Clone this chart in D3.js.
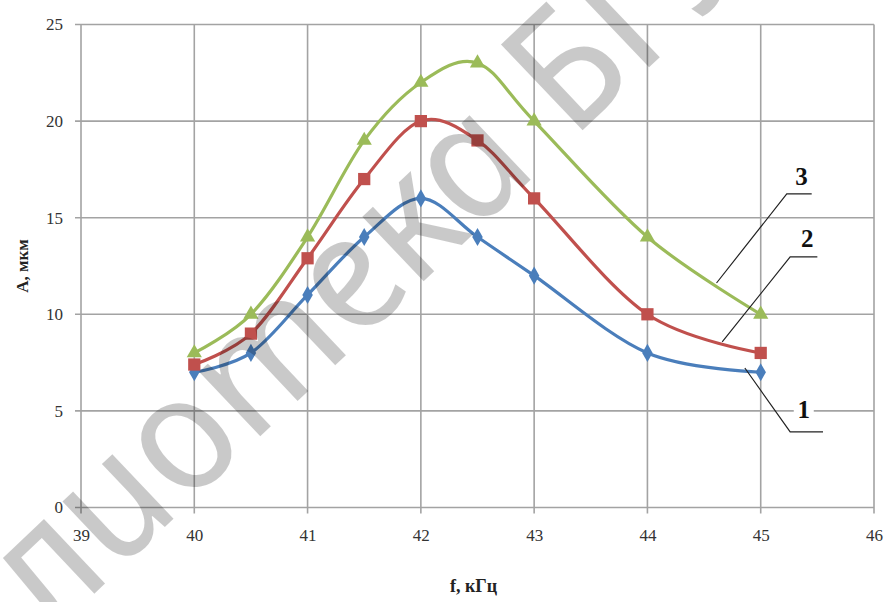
<!DOCTYPE html>
<html>
<head>
<meta charset="utf-8">
<script src="https://cdn.jsdelivr.net/npm/d3@7"></script>
<style>
  body { margin: 0; background: #fff; }
  svg { display: block; }
</style>
</head>
<body>
<div id="chart"></div>
<script>
// frequency, kHz
var freq = [40, 40.5, 41, 41.5, 42, 42.5, 43, 44, 45]
// amplitude, um
var curve1 = [7, 8, 11, 14, 16, 14, 12, 8, 7]
var curve2 = [7.4, 9, 12.9, 17, 20, 19, 16, 10, 8]
var curve3 = [8, 10, 14, 19, 22, 23, 20, 14, 10]

var xTicks = [39, 40, 41, 42, 43, 44, 45, 46]
var yTicks = [0, 5, 10, 15, 20, 25]

var width = 887, height = 602
var margin = {top: 24.5, right: 13, bottom: 94.5, left: 81}
var w = width - margin.left - margin.right
var h = height - margin.top - margin.bottom

var x = d3.scaleLinear().domain([39, 46]).range([0, w])
var y = d3.scaleLinear().domain([0, 25]).range([h, 0])

var serif = '"Liberation Serif", "Times New Roman", serif'

var svg = d3.select('#chart').append('svg')
  .attr('width', width)
  .attr('height', height)

var g = svg.append('g')
  .attr('transform', 'translate(' + margin.left + ',' + margin.top + ')')

var gridColor = '#a3a3a3'

// grid (ticks stick out a little past the axes)
g.append('g').selectAll('line')
  .data(yTicks)
  .enter().append('line')
  .attr('x1', -6).attr('x2', w)
  .attr('y1', function(d) { return y(d) })
  .attr('y2', function(d) { return y(d) })
  .attr('stroke', gridColor).attr('stroke-width', 1.6)

g.append('g').selectAll('line')
  .data(xTicks)
  .enter().append('line')
  .attr('x1', function(d) { return x(d) })
  .attr('x2', function(d) { return x(d) })
  .attr('y1', 0).attr('y2', h + 6)
  .attr('stroke', gridColor).attr('stroke-width', 1.6)

// axes
var yAxis = d3.axisLeft(y).tickValues(yTicks).tickSize(0).tickPadding(18).tickFormat(d3.format('d'))
var xAxis = d3.axisBottom(x).tickValues(xTicks).tickSize(0).tickPadding(21).tickFormat(d3.format('d'))

g.append('g').attr('class', 'y axis').call(yAxis)
  .attr('font-family', serif).attr('font-size', 17)
g.append('g').attr('class', 'x axis')
  .attr('transform', 'translate(0,' + h + ')')
  .call(xAxis)
  .attr('font-family', serif).attr('font-size', 17)

g.selectAll('.axis .domain').remove()
g.selectAll('.axis text').attr('fill', '#333')

g.append('text')
  .attr('transform', 'translate(' + (22 - margin.left) + ',' + (266 - margin.top) + ') rotate(-90)')
  .attr('text-anchor', 'middle')
  .attr('dy', '0.35em')
  .attr('font-family', serif)
  .attr('font-size', 17)
  .attr('font-weight', 'bold')
  .attr('fill', '#222')
  .text('A, мкм')

g.append('text')
  .attr('x', 450 - margin.left)
  .attr('y', 592 - margin.top)
  .attr('font-family', serif)
  .attr('font-size', 18)
  .attr('font-weight', 'bold')
  .attr('fill', '#222')
  .text('f, кГц')

// curves
var series = [
  {values: curve1, color: '#4a7ebb', marker: d3.symbolDiamond, size: 95},
  {values: curve2, color: '#c0504d', marker: d3.symbolSquare, size: 150},
  {values: curve3, color: '#9bbb59', marker: d3.symbolTriangle, size: 100}
]

var line = d3.line()
  .x(function(d, i) { return x(freq[i]) })
  .y(function(d) { return y(d) })
  .curve(d3.curveCardinal.tension(0))

series.forEach(function(s) {
  g.append('path')
    .datum(s.values)
    .attr('d', line)
    .attr('fill', 'none')
    .attr('stroke', s.color)
    .attr('stroke-width', 3.2)
    .attr('stroke-linejoin', 'round')

  g.append('g').selectAll('path')
    .data(s.values)
    .enter().append('path')
    .attr('d', d3.symbol().type(s.marker).size(s.size))
    .attr('transform', function(d, i) { return 'translate(' + x(freq[i]) + ',' + y(d) + ')' })
    .attr('fill', s.color)
})

// callouts: anchor on curve -> elbow -> underline, number above
var callouts = [
  {label: '1', ax: 44.86, ay: 7.22, lx0: 45.26, lx1: 45.55, ly: 3.91, tx: 45.38, ty: 4.63},
  {label: '2', ax: 44.66, ay: 8.57, lx0: 45.26, lx1: 45.50, ly: 12.97, tx: 45.41, ty: 13.48},
  {label: '3', ax: 44.61, ay: 11.62, lx0: 45.23, lx1: 45.45, ly: 16.23, tx: 45.36, ty: 16.69}
]

callouts.forEach(function(c) {
  g.append('rect')
    .attr('x', x(c.tx) - 10).attr('y', y(c.ty) - 22)
    .attr('width', 20).attr('height', 26)
    .attr('fill', '#fff')
  g.append('text')
    .attr('x', x(c.tx)).attr('y', y(c.ty))
    .attr('text-anchor', 'middle')
    .attr('font-family', serif)
    .attr('font-size', 25)
    .attr('font-weight', 'bold')
    .attr('fill', '#111')
    .text(c.label)
  g.append('polyline')
    .attr('points', [[x(c.ax), y(c.ay)], [x(c.lx0), y(c.ly)], [x(c.lx1), y(c.ly)]].join(' '))
    .attr('fill', 'none')
    .attr('stroke', '#222')
    .attr('stroke-width', 1.2)
})

// watermark: cursive letter forms but upright, placed so the "о" sits where it does in the scan
var wmSize = 166
var wm = svg.append('text')
  .attr('font-family', '"Noto Sans", sans-serif')
  .attr('font-style', 'italic')
  .attr('font-size', wmSize)
  .attr('fill', '#000')
  .attr('fill-opacity', 0.21)
  .text('Библиотека БГУИР')

var box = wm.node().getExtentOfChar(5)
var cx = box.x + box.width / 2
var cy = -0.27 * wmSize
wm.attr('transform', 'translate(186,445) rotate(-43.5) skewX(12) translate(' + (-cx) + ',' + (-cy) + ')')
</script>
</body>
</html>
